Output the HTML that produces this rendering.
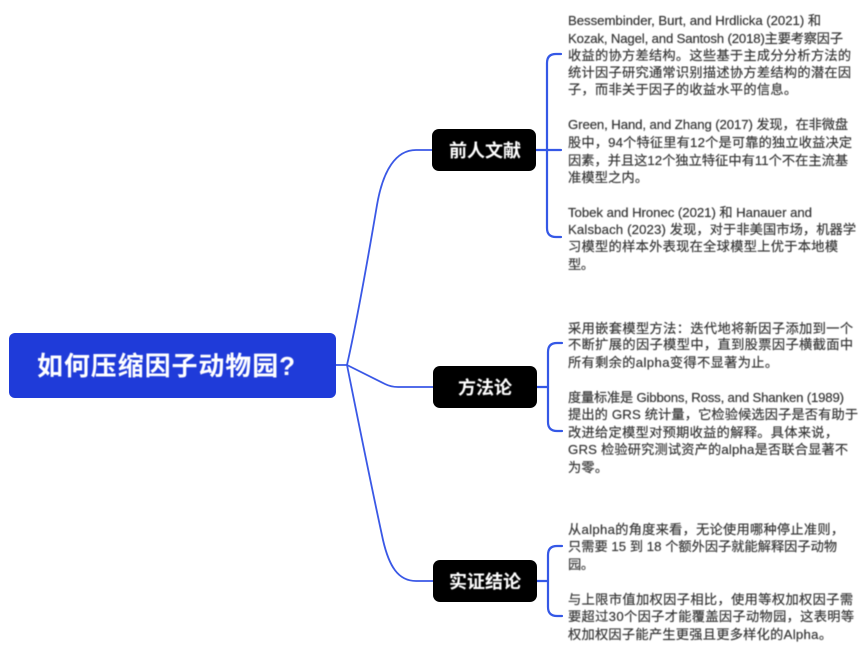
<!DOCTYPE html>
<html lang="zh">
<head>
<meta charset="utf-8">
<title>如何压缩因子动物园?</title>
<style>
html,body{margin:0;padding:0;background:#fff;width:864px;height:651px;overflow:hidden}
svg{display:block}
.t{font-family:"Liberation Sans","Noto Sans CJK SC",sans-serif;font-size:13.2px;fill:#333;stroke:#444;stroke-width:.2px}
.n{font-family:"Liberation Sans","Noto Sans CJK SC",sans-serif;font-weight:700;fill:#fff;text-anchor:middle}
.blur{filter:blur(.4px)}
</style>
</head>
<body>
<svg width="864" height="651" viewBox="0 0 864 651" xmlns="http://www.w3.org/2000/svg">
<rect width="864" height="651" fill="#fff"/>
<g fill="none" stroke="#3a58e6" stroke-width="1.8" stroke-linecap="round">
  <path d="M336 365H347"/>
  <path d="M347 365C356 325 366 270 377 205C383 170 396 150 416 150H433"/>
  <path d="M347 365L385 384Q391 387 398 387H434"/>
  <path d="M347 365C358 420 370 480 383 540C389 566 398 581 416 581H434"/>
</g>
<g fill="none" stroke="#3558e6" stroke-width="2.2" stroke-linecap="round">
  <path d="M536 150H561"/>
  <path d="M561 54H556Q547 54 547 63V228Q547 237 556 237H561"/>
  <path d="M537 387H548"/>
  <path d="M562 343H557Q548 343 548 352V422Q548 431 557 431H562"/>
  <path d="M537 581H548"/>
  <path d="M562 546H557Q548 546 548 555V607Q548 616 557 616H562"/>
</g>
<rect x="9" y="333" width="327" height="65" rx="6" fill="#1f3bd9"/>
<rect x="432" y="129" width="104" height="42" rx="7" fill="#000"/>
<rect x="433" y="366" width="104" height="42" rx="7" fill="#000"/>
<rect x="433" y="560" width="104" height="42" rx="7" fill="#000"/>
<g class="blur">
<text class="n" x="166" y="375" font-size="26" textLength="258" lengthAdjust="spacing">如何压缩因子动物园?</text>
<text class="n" x="485" y="157" font-size="18">前人文献</text>
<text class="n" x="485" y="394" font-size="18">方法论</text>
<text class="n" x="485" y="588" font-size="18">实证结论</text>

<text class="t" x="568" y="25" textLength="253" lengthAdjust="spacing">Bessembinder, Burt, and Hrdlicka (2021) 和</text>
<text class="t" x="568" y="43" textLength="275" lengthAdjust="spacing">Kozak, Nagel, and Santosh (2018)主要考察因子</text>
<text class="t" x="568" y="60" textLength="283" lengthAdjust="spacing">收益的协方差结构。这些基于主成分分析方法的</text>
<text class="t" x="568" y="77" textLength="283" lengthAdjust="spacing">统计因子研究通常识别描述协方差结构的潜在因</text>
<text class="t" x="568" y="94" textLength="229" lengthAdjust="spacing">子，而非关于因子的收益水平的信息。</text>

<text class="t" x="568" y="129" textLength="280" lengthAdjust="spacing">Green, Hand, and Zhang (2017) 发现，在非微盘</text>
<text class="t" x="568" y="147" textLength="284" lengthAdjust="spacing">股中，94个特征里有12个是可靠的独立收益决定</text>
<text class="t" x="568" y="165" textLength="280" lengthAdjust="spacing">因素，并且这12个独立特征中有11个不在主流基</text>
<text class="t" x="568" y="182" textLength="80" lengthAdjust="spacing">准模型之内。</text>

<text class="t" x="568" y="217" textLength="244" lengthAdjust="spacing">Tobek and Hronec (2021) 和 Hanauer and</text>
<text class="t" x="568" y="234" textLength="288" lengthAdjust="spacing">Kalsbach (2023) 发现，对于非美国市场，机器学</text>
<text class="t" x="568" y="251" textLength="270" lengthAdjust="spacing">习模型的样本外表现在全球模型上优于本地模</text>
<text class="t" x="568" y="269" textLength="26" lengthAdjust="spacing">型。</text>

<text class="t" x="568" y="333" textLength="285" lengthAdjust="spacing">采用嵌套模型方法：迭代地将新因子添加到一个</text>
<text class="t" x="568" y="349" textLength="285" lengthAdjust="spacing">不断扩展的因子模型中，直到股票因子横截面中</text>
<text class="t" x="568" y="367" textLength="210" lengthAdjust="spacing">所有剩余的alpha变得不显著为止。</text>

<text class="t" x="568" y="402" textLength="276" lengthAdjust="spacing">度量标准是 Gibbons, Ross, and Shanken (1989)</text>
<text class="t" x="568" y="419" textLength="290" lengthAdjust="spacing">提出的 GRS 统计量，它检验候选因子是否有助于</text>
<text class="t" x="568" y="437" textLength="270" lengthAdjust="spacing">改进给定模型对预期收益的解释。具体来说，</text>
<text class="t" x="568" y="454" textLength="280" lengthAdjust="spacing">GRS 检验研究测试资产的alpha是否联合显著不</text>
<text class="t" x="568" y="472" textLength="40" lengthAdjust="spacing">为零。</text>

<text class="t" x="568" y="534" textLength="276" lengthAdjust="spacing">从alpha的角度来看，无论使用哪种停止准则，</text>
<text class="t" x="568" y="551" textLength="269" lengthAdjust="spacing">只需要 15 到 18 个额外因子就能解释因子动物</text>
<text class="t" x="568" y="569" textLength="26" lengthAdjust="spacing">园。</text>

<text class="t" x="568" y="604" textLength="285" lengthAdjust="spacing">与上限市值加权因子相比，使用等权加权因子需</text>
<text class="t" x="568" y="621" textLength="286" lengthAdjust="spacing">要超过30个因子才能覆盖因子动物园，这表明等</text>
<text class="t" x="568" y="639" textLength="264" lengthAdjust="spacing">权加权因子能产生更强且更多样化的Alpha。</text>
</g>
</svg>
</body>
</html>
